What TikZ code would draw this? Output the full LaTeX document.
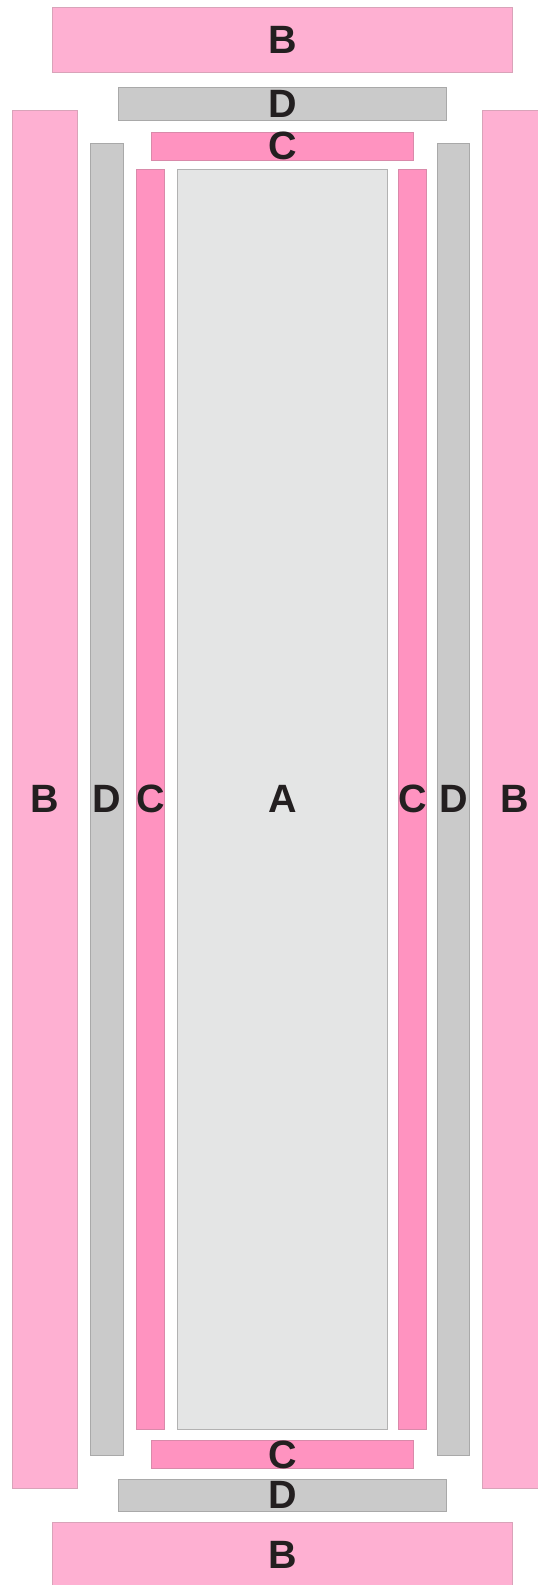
\documentclass[tikz,border=0pt]{standalone}
\usepackage{fontspec}
\setmainfont{Liberation Sans}
\usepackage{tikz}
\usetikzlibrary{positioning}
\usepackage{xcolor}
\definecolor{PanelPink}{HTML}{FEB0D2}
\definecolor{PanelPinkEdge}{HTML}{D9A3B9}
\definecolor{StripPink}{HTML}{FF93C0}
\definecolor{StripPinkEdge}{HTML}{D98AAA}
\definecolor{FrameGrey}{HTML}{CACACA}
\definecolor{FrameGreyEdge}{HTML}{A9A9A9}
\definecolor{CoreGrey}{HTML}{E4E5E5}
\definecolor{CoreGreyEdge}{HTML}{B2B2B2}
\definecolor{LabelInk}{HTML}{231F20}
\tikzset{
  part/.style={rectangle,inner sep=0pt,line width=0.8pt,text=LabelInk,
    font=\fontsize{39.5}{40}\selectfont\bfseries},
  partb/.style={part,fill=PanelPink,draw=PanelPinkEdge},
  partc/.style={part,fill=StripPink,draw=StripPinkEdge},
  partd/.style={part,fill=FrameGrey,draw=FrameGreyEdge},
  parta/.style={part,fill=CoreGrey,draw=CoreGreyEdge}
}

\begin{document}
\begin{tikzpicture}[x=1pt,y=-1pt]
  \useasboundingbox (0,0) rectangle (538,1585);
  \clip (0,0) rectangle (538,1585);
  \fill[white] (0,0) rectangle (538,1585);
  % top band
  \node[partb,minimum width=459.8pt,minimum height=65pt] (btop) at (282.7,39.8) {B};
  \node[partd,minimum width=328.3pt,minimum height=32.3pt] (dtop) at (282.5,103.8) {D};
  \node[partc,minimum width=262.8pt,minimum height=25.7pt] (ctop) at (282.4,146.2) {C};
  % middle column
  \node[partb,minimum width=65.5pt,minimum height=1377.3pt] (bleft) at (44.8,799.3) {B};
  \node[partd,minimum width=32.9pt,minimum height=1311.7pt] (dleft) at (107,799.2) {D};
  \node[partc,minimum width=26.5pt,minimum height=1259.7pt] (cleft) at (150.4,799.2) {C};
  \node[parta,minimum width=210.4pt,minimum height=1259.7pt] (core) at (282.5,799.2) {A};
  \node[partc,minimum width=26.7pt,minimum height=1259.7pt] (cright) at (412.4,799.2) {C};
  \node[partd,minimum width=32.2pt,minimum height=1311.7pt] (dright) at (453.6,799.2) {D};
  \node[partb,minimum width=65.5pt,minimum height=1377.3pt] (bright) at (515.1,799.3) {B};
  % bottom band
  \node[partc,minimum width=262.8pt,minimum height=25.7pt] (cbot) at (282.4,1454.5) {C};
  \node[partd,minimum width=328.3pt,minimum height=32pt] (dbot) at (282.5,1495) {D};
  \node[partb,minimum width=459.8pt,minimum height=65pt] (bbot) at (282.7,1554.8) {B};
\end{tikzpicture}
\end{document}
